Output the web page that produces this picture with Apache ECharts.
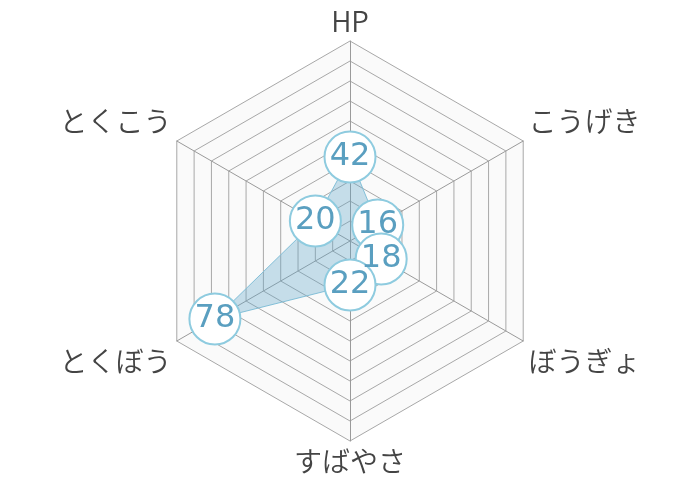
<!DOCTYPE html>
<html>
<head>
<meta charset="utf-8">
<script src="https://cdn.jsdelivr.net/npm/echarts@6/dist/echarts.min.js"></script>
<style>
html,body{margin:0;padding:0;background:#fff;}
#c{width:700px;height:480px;}
</style>
</head>
<body>
<div id="c"></div>
<script>
// Indicators in clockwise order from the top
const indicators = ['HP', 'こうげき', 'ぼうぎょ', 'すばやさ', 'とくぼう', 'とくこう'];
const stats = [42, 16, 18, 22, 78, 20];
const maxValue = 100;

// ECharts radar lays indicators out counter-clockwise, so feed it the mirrored order
const ccwIndex = [0, 5, 4, 3, 2, 1];
const radarIndicators = ccwIndex.map(i => indicators[i]);
const radarStats = ccwIndex.map(i => stats[i]);

const chart = echarts.init(document.getElementById('c'), null, {renderer: 'canvas'});
const FONT = '"Noto Sans CJK JP", "Noto Sans", sans-serif';
const upper = ['こうげき', 'とくこう'];
const lower = ['ぼうぎょ', 'とくぼう'];
const CENTER = [350, 241];
const RADIUS = 200;

chart.setOption({
  backgroundColor: '#ffffff',
  animation: false,
  radar: {
    center: CENTER,
    radius: RADIUS,
    startAngle: 90,
    splitNumber: 10,
    shape: 'polygon',
    axisName: {
      color: '#444444',
      fontSize: 28,
      fontWeight: 350,
      fontFamily: FONT,
      formatter: function (name) {
        if (upper.indexOf(name) >= 0) return '{u|' + name + '}';
        if (lower.indexOf(name) >= 0) return '{d|' + name + '}';
        return '{n|' + name + '}';
      },
      rich: {
        u: {fontSize: 28, color: '#444444', fontFamily: FONT, fontWeight: 350, padding: [0, 0, 34, 0]},
        d: {fontSize: 28, color: '#444444', fontFamily: FONT, fontWeight: 350, padding: [34, 0, 0, 0]},
        n: {fontSize: 28, color: '#444444', fontFamily: FONT, fontWeight: 350}
      }
    },
    axisNameGap: 6,
    axisLine: {lineStyle: {color: '#9a9a9a', width: 1}},
    splitLine: {lineStyle: {color: '#a8a8a8', width: 1}},
    splitArea: {show: true, areaStyle: {color: ['#fafafa']}},
    indicator: radarIndicators.map(n => ({name: n, max: maxValue, min: 0}))
  },
  polar: {center: CENTER, radius: RADIUS},
  angleAxis: {
    type: 'category',
    data: indicators,
    boundaryGap: true,
    startAngle: 120,
    clockwise: true,
    show: false
  },
  radiusAxis: {type: 'value', min: 0, max: maxValue, show: false},
  series: [{
    type: 'radar',
    symbol: 'none',
    lineStyle: {color: '#8cc6dc', width: 1},
    areaStyle: {color: 'rgba(100,168,200,0.5)'},
    data: [{value: radarStats}]
  }, {
    type: 'scatter',
    coordinateSystem: 'polar',
    symbol: 'circle',
    symbolSize: 51,
    itemStyle: {color: '#ffffff', borderColor: '#8ecbdf', borderWidth: 2, opacity: 1},
    label: {
      show: true,
      position: 'inside',
      color: '#5a9fc0',
      fontSize: 32,
      fontFamily: '"DejaVu Sans", sans-serif',
      formatter: p => String(p.value[0])
    },
    data: indicators.map((n, i) => [stats[i], n])
  }]
});
</script>
</body>
</html>
